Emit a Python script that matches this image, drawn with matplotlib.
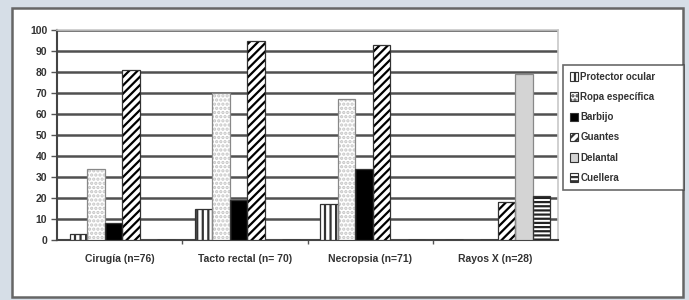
import matplotlib.pyplot as plt
import matplotlib.patches as mpatches
import numpy as np

categories = ['Cirugía (n=76)', 'Tacto rectal (n= 70)', 'Necropsia (n=71)', 'Rayos X (n=28)']
series = ['Protector ocular', 'Ropa específica', 'Barbijo', 'Guantes', 'Delantal', 'Cuellera']
protector = [3, 15, 17, 0]
ropa = [34, 70, 67, 0]
barbijo = [8, 19, 34, 0]
guantes = [81, 95, 93, 18]
delantal = [0, 0, 0, 79]
cuellera = [0, 0, 0, 21]
values = [protector, ropa, barbijo, guantes, delantal, cuellera]
yticks = list(range(0, 101, 10))

# (face, hatch, hatch colour)
styles = [
    ('white', '|||', '#333333'),
    ('white', '....', '#c4c4c4'),
    ('black', None, 'black'),
    ('white', '////', 'black'),
    ('#d4d4d4', None, '#999999'),
    ('white', '----', '#222222'),
]

plt.rcParams['font.family'] = ['Liberation Sans', 'DejaVu Sans']
plt.rcParams['hatch.linewidth'] = 1.6

fig = plt.figure(figsize=(6.89, 3.0), dpi=100)
fig.patch.set_facecolor('#d6dee7')
fig.patches.append(mpatches.Rectangle((12 / 689, 3 / 300), 671 / 689, 289 / 300,
                                      transform=fig.transFigure, facecolor='white',
                                      edgecolor='#666666', linewidth=1.8, zorder=-5))

ax = fig.add_axes([57 / 689, 60 / 300, 501 / 689, 210 / 300])
ax.set_facecolor('white')

x = np.arange(len(categories))
w = 0.14
handles = []
for i, (vals, (fc, hatch, hc)) in enumerate(zip(values, styles)):
    pos = x + (i - 2.5) * w + 0.02
    ax.bar(pos, vals, w, color=fc, hatch=hatch, edgecolor=hc, linewidth=0, zorder=3)
    ax.bar(pos, vals, w, fill=False, edgecolor='#333333' if i not in (1, 4) else '#888888',
           linewidth=0.9, zorder=4)
    handles.append(mpatches.Patch(facecolor=fc, hatch=hatch, edgecolor='#333333', linewidth=0.8))

ax.set_ylim(0, 100)
ax.set_xlim(-0.5, 3.5)
ax.set_yticks(yticks)
ax.set_yticklabels([str(t) for t in yticks], fontsize=7.5, fontweight='bold', color='#333333')
ax.yaxis.grid(True, color='#505050', linewidth=1.8, zorder=1)
ax.set_axisbelow(True)
ax.set_xticks(x)
ax.set_xticklabels(categories, fontsize=7.5, fontweight='bold', color='#333333')
ax.set_xticks([0.5, 1.5, 2.5], minor=True)
ax.tick_params(axis='x', which='major', length=0, pad=10)
ax.tick_params(axis='x', which='minor', length=3, width=1, color='#555555', direction='out')
ax.tick_params(axis='y', length=4, width=1, color='#555555', pad=3)
for s in ['left', 'bottom']:
    ax.spines[s].set_color('#444444')
    ax.spines[s].set_linewidth(1.5)
for s in ['top', 'right']:
    ax.spines[s].set_color('#c8c8c8')
    ax.spines[s].set_linewidth(1.2)

leg = fig.legend(handles, series, loc='upper left', mode='expand',
                 bbox_to_anchor=(563 / 689, 102 / 300, 121 / 689, 133 / 300),
                 fontsize=7, frameon=True, fancybox=False, edgecolor='#444444',
                 handlelength=0.8, handleheight=1.0, handletextpad=0.3,
                 labelspacing=1.05, borderpad=0.7, borderaxespad=0)
leg.get_frame().set_linewidth(1.2)
for t in leg.get_texts():
    t.set_fontweight('bold')
    t.set_color('#333333')

fig.savefig('out.png', dpi=100, facecolor=fig.get_facecolor())
